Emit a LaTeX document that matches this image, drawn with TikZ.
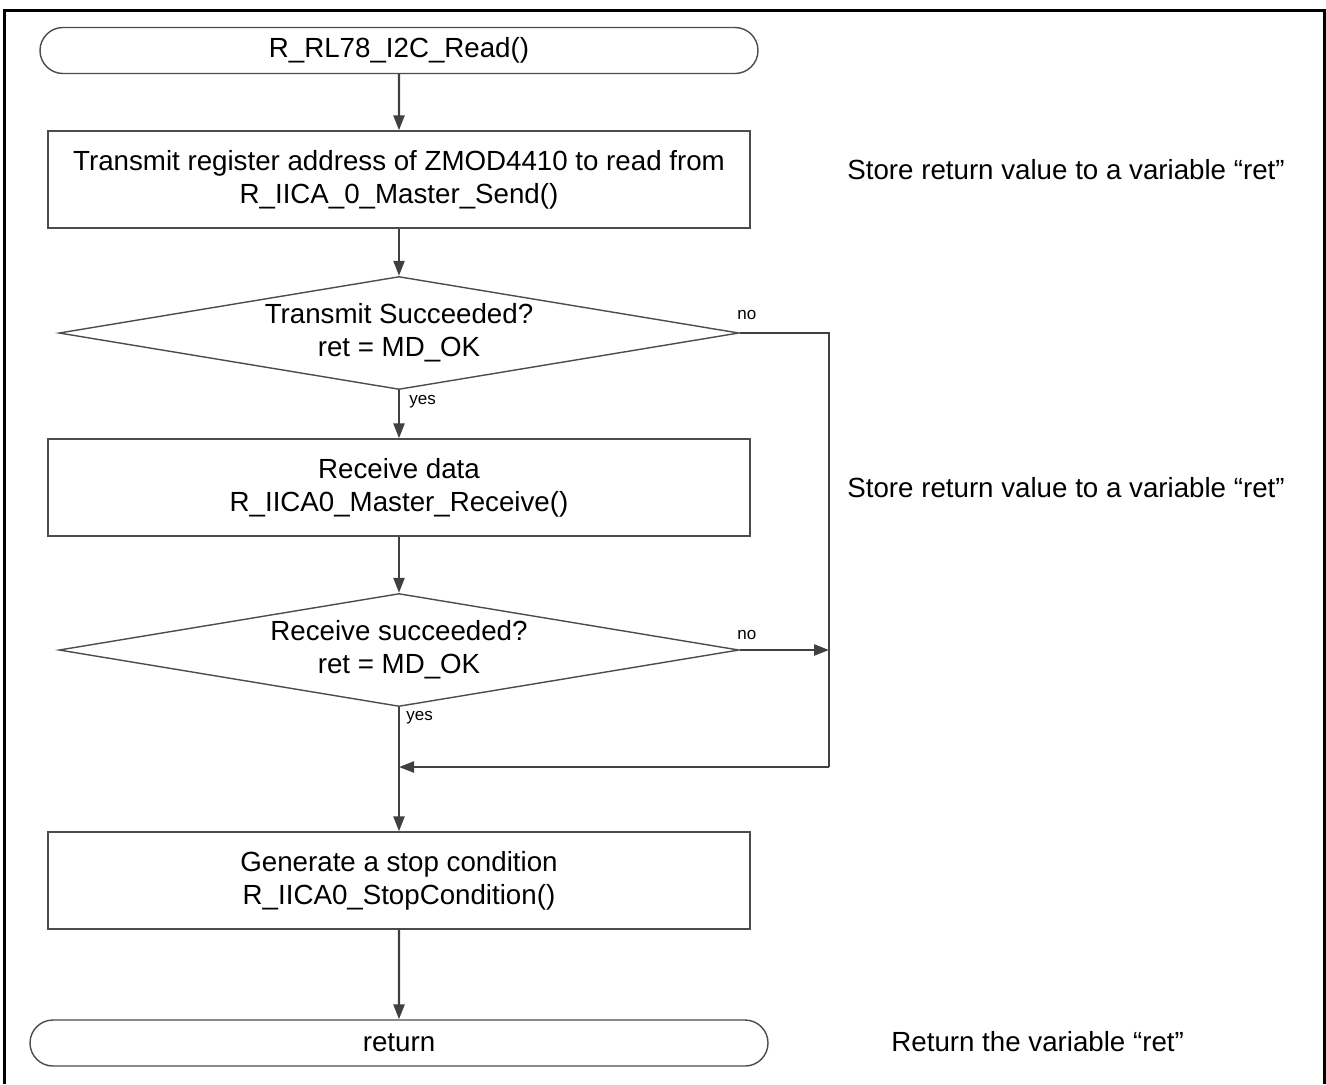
\documentclass[tikz,border=0pt]{standalone}
\usepackage{fontspec}
\setmainfont{Liberation Sans}
\usetikzlibrary{shapes.geometric,shapes.misc,arrows.meta}
\begin{document}
\begin{tikzpicture}[x=0.5pt,y=-0.5pt,
  every node/.style={font=\fontsize{13.85pt}{16.6pt}\selectfont, align=center, inner sep=0pt},
  shapeline/.style={draw=black!70, line width=0.7pt},
  term/.style={shapeline, rounded rectangle, minimum height=23pt},
  procbox/.style={shapeline, rectangle, minimum width=351pt, minimum height=48.5pt},
  decis/.style={shapeline, diamond, aspect=6, minimum width=340pt, minimum height=56.5pt},
  flow/.style={draw=black!75, line width=1.2pt, -{Triangle[length=7.5pt,width=5.5pt]}},
  flowline/.style={draw=black!75, line width=1.2pt},
  small/.style={font=\fontsize{8.5pt}{10pt}\selectfont, anchor=west},
  note/.style={anchor=west}]
\useasboundingbox (0,0) rectangle (1326,1084);
\fill[white] (0,0) rectangle (1326,1084);
\draw[black, line width=1.5pt] (4,1084) -- (4,10) -- (1324,10) -- (1324,1084);

\node[term, minimum width=359pt] (start) at (399,50.5) {R\_RL78\_I2C\_Read()};
\node[procbox] (b1) at (399,179.5) {Transmit register address of ZMOD4410 to read from\\R\_IICA\_0\_Master\_Send()};
\node[decis] (d1) at (399,333) {Transmit Succeeded?\\ret = MD\_OK};
\node[procbox] (b2) at (399,487.5) {Receive data\\R\_IICA0\_Master\_Receive()};
\node[decis] (d2) at (399,650) {Receive succeeded?\\ret = MD\_OK};
\node[procbox] (b3) at (399,880.5) {Generate a stop condition\\R\_IICA0\_StopCondition()};
\node[term, minimum width=369pt] (ret) at (399,1043) {return};

\node[note] (n1) at (847,170) {Store return value to a variable “ret”};
\node[note] (n2) at (847,488) {Store return value to a variable “ret”};
\node[note] (n3) at (891,1042) {Return the variable “ret”};

\coordinate (r1) at (829,333);
\coordinate (r2) at (829,650);
\coordinate (rb) at (829,767);
\coordinate (m) at (399,767);

\draw[flow] (start) -- (b1);
\draw[flow] (b1) -- (d1);
\draw[flow] (d1) -- (b2);
\draw[flow] (b2) -- (d2);
\draw[flow] (d2) -- (b3);
\draw[flow] (b3) -- (ret);
\draw[flowline] (d1.east) -- (r1) -- (rb);
\draw[flow] (rb) -- (m);
\draw[flow] (d2.east) -- (r2);

\node[small] (no1) at (737,315) {no};
\node[small] (yes1) at (409,402) {yes};
\node[small] (no2) at (737,635) {no};
\node[small] (yes2) at (406,718) {yes};
\end{tikzpicture}
\end{document}
